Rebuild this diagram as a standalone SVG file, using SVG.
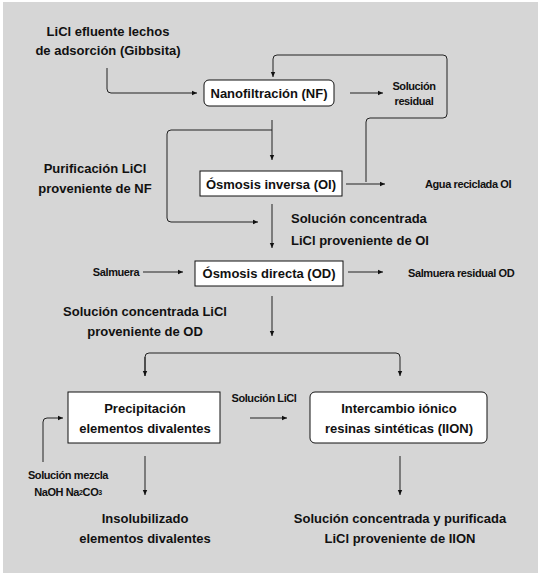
<svg xmlns="http://www.w3.org/2000/svg" width="542" height="576" viewBox="0 0 542 576">
<style>
.t{font-family:"Liberation Sans",Arial,sans-serif;font-weight:bold;font-size:13px;fill:#111;dominant-baseline:central}
.s{font-family:"Liberation Sans",Arial,sans-serif;font-weight:bold;font-size:11px;fill:#111;letter-spacing:-0.4px;dominant-baseline:central}
.m{text-anchor:middle}
.box{fill:#fff;stroke:#111;stroke-width:1}
.ln{fill:none;stroke:#222;stroke-width:1}
</style>
<defs>
<marker id="ah" markerWidth="6" markerHeight="6" refX="5" refY="3" orient="auto" markerUnits="userSpaceOnUse">
<path d="M0,0.8 L5,3 L0,5.2 Z" fill="#111"/>
</marker>
</defs>
<rect x="0" y="0" width="542" height="576" fill="#fff"/>
<rect x="3" y="2" width="535" height="571" fill="#d6d6d6"/>

<g id="connectors">
<path class="ln" d="M107,68 V89 Q107,93 111,93 H197" marker-end="url(#ah)"/>
<path class="ln" d="M350,93 H383" marker-end="url(#ah)"/>
<path class="ln" d="M366,182 V122 Q366,118 370,118 H443 Q447,118 447,114 V59 Q447,55 443,55 H277 Q273,55 273,59 V77" marker-end="url(#ah)"/>
<path class="ln" d="M272,120 V160" marker-end="url(#ah)"/>
<path class="ln" d="M272,130 H171 Q167,130 167,134 V218 Q167,222 171,222 H258" marker-end="url(#ah)"/>
<path class="ln" d="M346,184 H385" marker-end="url(#ah)"/>
<path class="ln" d="M272,204 V248" marker-end="url(#ah)"/>
<path class="ln" d="M143,272 H183" marker-end="url(#ah)"/>
<path class="ln" d="M348,272 H383" marker-end="url(#ah)"/>
<path class="ln" d="M272,296 V336" marker-end="url(#ah)"/>
<path class="ln" d="M145,376 V357 Q145,353 149,353 H396 Q400,353 400,357 V376" marker-end="url(#ah)"/>
<path class="ln" d="M145,357 V376" marker-end="url(#ah)"/>
<path class="ln" d="M250,418 H287" marker-end="url(#ah)"/>
<path class="ln" d="M43,462 V422 Q43,418 47,418 H63" marker-end="url(#ah)"/>
<path class="ln" d="M145,456 V495" marker-end="url(#ah)"/>
<path class="ln" d="M400,456 V495" marker-end="url(#ah)"/>
</g>

<g id="input-licl">
<text class="t m" x="108" y="31">LiCl efluente lechos</text>
<text class="t m" x="108" y="50">de adsorción (Gibbsita)</text>
</g>
<g id="nf">
<rect class="box" x="204" y="80" width="130" height="26" rx="5"/>
<text class="t m" x="269" y="93">Nanofiltración (NF)</text>
</g>
<g id="sol-residual">
<text class="s m" x="414" y="86">Solución</text>
<text class="s m" x="414" y="101">residual</text>
</g>
<g id="purif-nf">
<text class="t m" x="95" y="168">Purificación LiCl</text>
<text class="t m" x="95" y="188">proveniente de NF</text>
</g>
<g id="oi">
<rect class="box" x="200" y="171" width="142" height="25"/>
<text class="t m" x="271" y="184">Ósmosis inversa (OI)</text>
</g>
<g id="agua-oi">
<text class="s" x="425" y="184">Agua reciclada OI</text>
</g>
<g id="sol-oi">
<text class="t" x="291" y="218">Solución concentrada</text>
<text class="t" x="291" y="240">LiCl proveniente de OI</text>
</g>
<g id="salmuera">
<text class="s m" x="116" y="272">Salmuera</text>
</g>
<g id="od">
<rect class="box" x="195" y="261" width="148" height="25"/>
<text class="t m" x="269" y="273">Ósmosis directa (OD)</text>
</g>
<g id="salmuera-res">
<text class="s" x="408" y="273">Salmuera residual OD</text>
</g>
<g id="sol-od">
<text class="t m" x="145" y="311">Solución concentrada LiCl</text>
<text class="t m" x="145" y="331">proveniente de OD</text>
</g>
<g id="precip">
<rect class="box" x="68" y="392" width="152" height="51"/>
<text class="t m" x="145" y="408">Precipitación</text>
<text class="t m" x="145" y="428">elementos divalentes</text>
</g>
<g id="sol-licl">
<text class="s m" x="264" y="398">Solución LiCl</text>
</g>
<g id="iion">
<rect class="box" x="310" y="392" width="177" height="51" rx="5"/>
<text class="t m" x="399" y="408">Intercambio iónico</text>
<text class="t m" x="399" y="428">resinas sintéticas (IION)</text>
</g>
<g id="mezcla">
<text class="s m" x="68" y="475">Solución mezcla</text>
<text class="s m" x="68" y="492">NaOH Na<tspan font-size="7">2</tspan>CO<tspan font-size="7">3</tspan></text>
</g>
<g id="insol">
<text class="t m" x="145" y="518">Insolubilizado</text>
<text class="t m" x="145" y="538">elementos divalentes</text>
</g>
<g id="sol-iion">
<text class="t m" x="400" y="518">Solución concentrada y purificada</text>
<text class="t m" x="400" y="538">LiCl proveniente de IION</text>
</g>
</svg>
